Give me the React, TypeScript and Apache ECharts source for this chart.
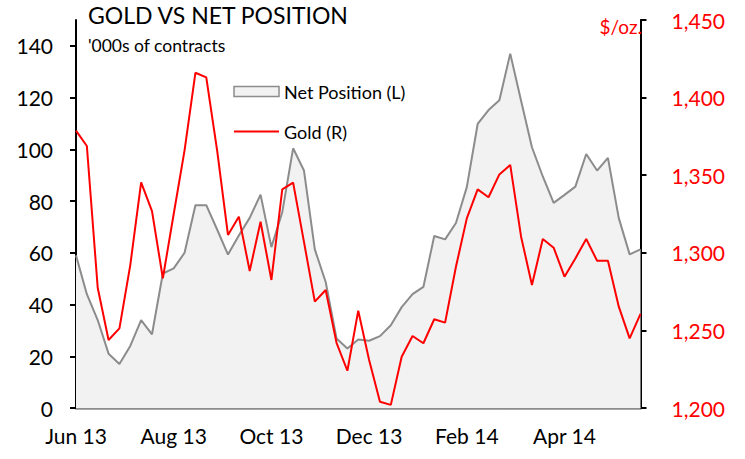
import React, { useEffect, useRef } from "react";
import * as echarts from "echarts";

const weeks = [
  "2013-06-04", "2013-06-11", "2013-06-18", "2013-06-25",
  "2013-07-02", "2013-07-09", "2013-07-16", "2013-07-23", "2013-07-30",
  "2013-08-06", "2013-08-13", "2013-08-20", "2013-08-27",
  "2013-09-03", "2013-09-10", "2013-09-17", "2013-09-24",
  "2013-10-01", "2013-10-08", "2013-10-15", "2013-10-22", "2013-10-29",
  "2013-11-05", "2013-11-12", "2013-11-19", "2013-11-26",
  "2013-12-03", "2013-12-10", "2013-12-17", "2013-12-24", "2013-12-31",
  "2014-01-07", "2014-01-14", "2014-01-21", "2014-01-28",
  "2014-02-04", "2014-02-11", "2014-02-18", "2014-02-25",
  "2014-03-04", "2014-03-11", "2014-03-18", "2014-03-25",
  "2014-04-01", "2014-04-08", "2014-04-15", "2014-04-22", "2014-04-29",
  "2014-05-06", "2014-05-13", "2014-05-20", "2014-05-27",
  "2014-06-03",
];

const netPosition = [
  59, 44, 34, 21, 17, 24, 34, 28.5, 52, 54,
  60, 78.4, 78.4, 69, 59.3, 66.7, 73.5, 82.5, 62.2, 75.7,
  100.4, 91.8, 61.3, 48.7, 26.9, 23, 26.5, 26, 27.8, 32,
  39, 44, 46.8, 66.5, 65.2, 71.5, 85.4, 109.8, 115.2, 119,
  137, 118.8, 100.8, 89.5, 79.3, 82.4, 85.6, 98.2, 91.8, 96.7,
  73.4, 59.4, 61.3,
];

const gold = [
  1378.7, 1368.8, 1277.5, 1243.8, 1251.3, 1292.1, 1345.4, 1326.9, 1283.6, 1325,
  1366, 1416, 1413, 1366, 1311.5, 1323.3, 1288.3, 1320, 1282.5, 1340.9,
  1345.2, 1307, 1268.5, 1276, 1242, 1224, 1262.7, 1230.9, 1204, 1202,
  1233, 1246.4, 1241.7, 1257.2, 1255, 1291, 1322.2, 1340.9, 1335.8, 1350.5,
  1356.6, 1310.4, 1279.3, 1308.9, 1303.3, 1284.6, 1296.4, 1308.9, 1294.9, 1294.9,
  1265.3, 1244.9, 1260.6,
];

const leftTicks = [0, 20, 40, 60, 80, 100, 120, 140];
const rightTicks = [1200, 1250, 1300, 1350, 1400, 1450];
const monthNames = ["Jan", "Feb", "Mar", "Apr", "May", "Jun", "Jul", "Aug", "Sep", "Oct", "Nov", "Dec"];

const FONT = "Lato";

export default function App() {
  const ref = useRef<HTMLDivElement>(null);
  useEffect(() => {
    document.body.style.margin = "0";
    if (!ref.current) return;
    const chart = echarts.init(ref.current, undefined, { renderer: "svg" });
    chart.setOption({
      animation: false,
      backgroundColor: "#ffffff",
      textStyle: { fontFamily: FONT },
      title: [
        {
          text: "GOLD VS NET POSITION",
          left: 88,
          top: 3,
          padding: 0,
          textStyle: { fontFamily: FONT, fontSize: 23, fontWeight: "normal", color: "#000" },
        },
        {
          text: "'000s of contracts",
          left: 88,
          top: 36,
          padding: 0,
          textStyle: { fontFamily: FONT, fontSize: 17.5, fontWeight: "normal", color: "#000" },
        },
        {
          text: "$/oz.",
          right: 103,
          top: 17,
          padding: 0,
          textStyle: { fontFamily: FONT, fontSize: 19, fontWeight: "normal", color: "#ff0000" },
        },
      ],
      legend: {
        orient: "vertical",
        left: 233,
        top: 81.5,
        padding: 0,
        itemGap: 20,
        itemWidth: 45,
        itemHeight: 10,
        textStyle: { fontFamily: FONT, fontSize: 18, color: "#000", lineHeight: 20 },
        data: [
          {
            name: "Net Position (L)",
            icon: "rect",
            itemStyle: { color: "#f2f2f2", borderColor: "#8c8c8c", borderWidth: 1.5 },
          },
          {
            name: "Gold (R)",
            itemStyle: { opacity: 0 },
            lineStyle: { color: "#ff0000", width: 2, opacity: 1 },
          },
        ],
      },
      grid: { left: 76, right: 104.5, top: 20, bottom: 51, containLabel: false },
      xAxis: {
        type: "category",
        data: weeks,
        boundaryGap: false,
        axisLine: { lineStyle: { color: "#8c8c8c", width: 2.5 } },
        axisTick: { show: false },
        axisLabel: {
          interval: 8,
          margin: 17,
          fontFamily: FONT,
          fontSize: 21,
          color: "#000",
          formatter: (v: string) => {
            const [y, m] = v.split("-");
            return monthNames[parseInt(m, 10) - 1] + " " + y.slice(2);
          },
        },
        splitLine: { show: false },
      },
      yAxis: [
        {
          type: "value",
          position: "left",
          min: 0,
          max: 150,
          interval: 10,
          axisLine: { show: true, lineStyle: { color: "#000", width: 2 } },
          axisTick: { show: true, length: 6, customValues: leftTicks, lineStyle: { color: "#000", width: 2 } },
          axisLabel: {
            customValues: leftTicks,
            margin: 23,
            fontFamily: FONT,
            fontSize: 21,
            color: "#000",
          },
          splitLine: { show: false },
        },
        {
          type: "value",
          position: "right",
          min: 1200,
          max: 1450,
          interval: 50,
          axisLine: { show: true, lineStyle: { color: "#000", width: 2 } },
          axisTick: { show: true, length: 6, customValues: rightTicks, lineStyle: { color: "#000", width: 2 } },
          axisLabel: {
            customValues: rightTicks,
            margin: 31,
            fontFamily: FONT,
            fontSize: 21,
            color: "#ff0000",
            formatter: (v: number) => v.toLocaleString("en-US"),
          },
          splitLine: { show: false },
        },
      ],
      series: [
        {
          name: "Net Position (L)",
          type: "line",
          yAxisIndex: 0,
          data: netPosition,
          symbol: "none",
          lineStyle: { color: "#8c8c8c", width: 2 },
          itemStyle: { color: "#8c8c8c" },
          areaStyle: { color: "#f2f2f2", opacity: 1 },
          z: 1,
        },
        {
          name: "Gold (R)",
          type: "line",
          yAxisIndex: 1,
          data: gold,
          symbol: "none",
          lineStyle: { color: "#ff0000", width: 2 },
          itemStyle: { color: "#ff0000" },
          z: 3,
        },
      ],
    });
    return () => chart.dispose();
  }, []);
  return <div ref={ref} style={{ width: 745, height: 459 }} />;
}
